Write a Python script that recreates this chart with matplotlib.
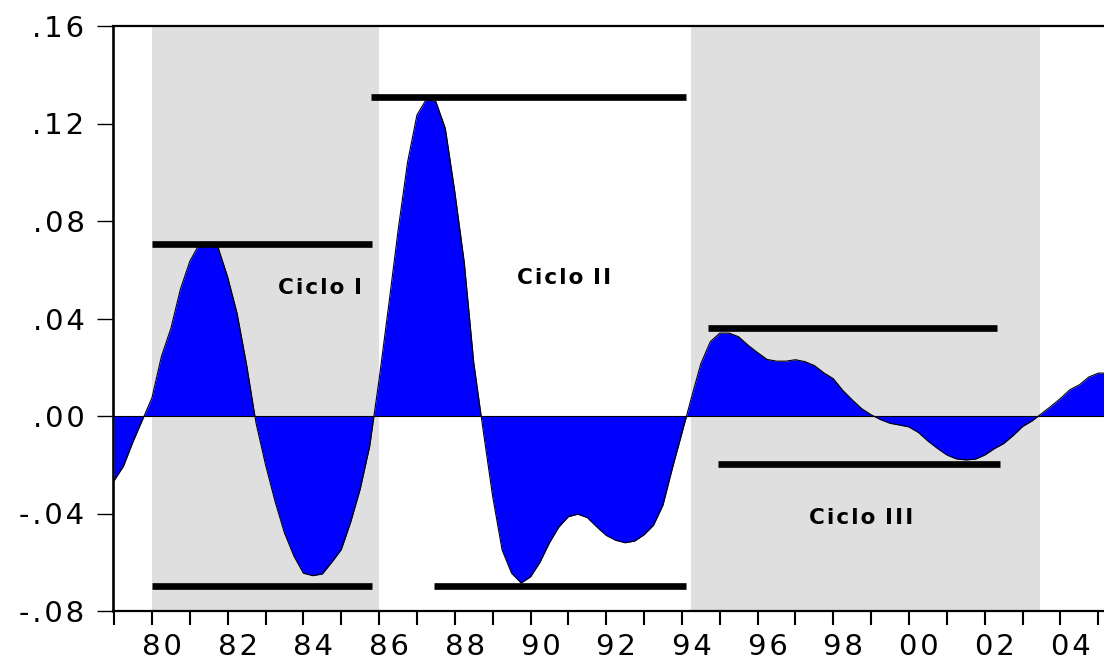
import numpy as np
import matplotlib
matplotlib.use("Agg")
import matplotlib.pyplot as plt
import matplotlib.transforms as mtrans

# ciclo economico trimestral (componente ciclica), 1979T1 - 2005T2
anio_inicio = 1979
ciclo = [
    -0.0265, -0.0205, -0.0105, -0.0015,   # 1979
    0.0075, 0.0245, 0.0360, 0.0520,       # 1980
    0.0635, 0.0705, 0.0710, 0.0690,       # 1981
    0.0570, 0.0420, 0.0210, -0.0030,      # 1982
    -0.0200, -0.0350, -0.0480, -0.0575,   # 1983
    -0.0645, -0.0655, -0.0648, -0.0600,   # 1984
    -0.0548, -0.0435, -0.0300, -0.0125,   # 1985
    0.0150, 0.0450, 0.0760, 0.1040,       # 1986
    0.1235, 0.1300, 0.1290, 0.1180,       # 1987
    0.0920, 0.0630, 0.0220, -0.0060,      # 1988
    -0.0330, -0.0550, -0.0645, -0.0685,   # 1989
    -0.0660, -0.0600, -0.0520, -0.0455,   # 1990
    -0.0413, -0.0403, -0.0417, -0.0455,   # 1991
    -0.0490, -0.0510, -0.0520, -0.0513,   # 1992
    -0.0487, -0.0448, -0.0365, -0.0213,   # 1993
    -0.0070, 0.0075, 0.0215, 0.0305,      # 1994
    0.0340, 0.0340, 0.0325, 0.0290,       # 1995
    0.0260, 0.0232, 0.0225, 0.0225,       # 1996
    0.0231, 0.0223, 0.0207, 0.0177,       # 1997
    0.0153, 0.0105, 0.0066, 0.0030,       # 1998
    0.0005, -0.0015, -0.0030, -0.0037,    # 1999
    -0.0045, -0.0068, -0.0103, -0.0133,   # 2000
    -0.0160, -0.0176, -0.0180, -0.0177,   # 2001
    -0.0160, -0.0134, -0.0113, -0.0080,   # 2002
    -0.0043, -0.0020, 0.0010, 0.0040,     # 2003
    0.0072, 0.0108, 0.0128, 0.0160,       # 2004
    0.0176, 0.0176,                       # 2005
]

# zonas sombreadas (inicio, fin)
sombra_ini = [1980.0, 1994.25]
sombra_fin = [1986.0, 2003.45]

# lineas de picos y valles
linea_nivel = [0.0706, 0.1310, -0.0699, -0.0699, 0.0361, -0.0195]
linea_ini = [1980.0, 1985.79, 1980.0, 1987.45, 1994.70, 1994.94]
linea_fin = [1985.82, 1994.11, 1985.82, 1994.11, 2002.33, 2002.41]

# etiquetas de los ciclos
ciclo_txt = ["Ciclo I", "Ciclo II", "Ciclo III"]
ciclo_x = [1984.44, 1990.89, 1998.74]
ciclo_y = [0.0524, 0.0565, -0.0420]

y_ticks = [-0.08, -0.04, 0.00, 0.04, 0.08, 0.12, 0.16]
y_etiquetas = ["-.08", "-.04", ".00", ".04", ".08", ".12", ".16"]
x_anios = list(range(1979, 2006))


def espaciar(s, sep="\u200a"):
    return sep.join(s)


plt.rcParams['font.family'] = ['DejaVu Sans']

t = anio_inicio + np.arange(len(ciclo)) / 4.0
y = np.array(ciclo)

fig = plt.figure(figsize=(11.04, 6.62), dpi=100)
ax = fig.add_axes([113 / 1104, 51 / 662, 1 - 113 / 1104, 585 / 662])

for a, b in zip(sombra_ini, sombra_fin):
    ax.axvspan(a, b, color="#dfdfdf", lw=0, zorder=0)

ax.fill_between(t, 0, y, color="#0000ff", lw=0, zorder=1)
ax.plot(t, y, color="black", lw=0.8, zorder=2)
ax.axhline(0, color="black", lw=0.8, zorder=2)

ax.hlines(linea_nivel, linea_ini, linea_fin, colors="black", lw=4.8,
          capstyle="butt", zorder=3)

for txt, xx, yy in zip(ciclo_txt, ciclo_x, ciclo_y):
    partes = txt.split(" ")
    s = espaciar(partes[0]) + " \u200a" + espaciar(partes[1])
    ax.text(xx, yy, s, ha="center", va="center", fontsize=15.5,
            fontweight="bold", zorder=4)

ax.set_xlim(1978.97, 2005.15)
ax.set_ylim(-0.08, 0.16)

ax.set_yticks(y_ticks)
ax.set_yticklabels([espaciar(e) for e in y_etiquetas], fontsize=21)
ax.set_xticks(x_anios)
x_etiquetas = []
for a in x_anios:
    if a % 2 == 0:
        x_etiquetas.append(espaciar(str(a)[2:]))
    else:
        x_etiquetas.append("")
ax.set_xticklabels(x_etiquetas, fontsize=21)

ax.tick_params(axis="y", direction="out", length=11.5, width=1.0, pad=9)
ax.tick_params(axis="x", direction="out", length=10, width=1.5, pad=6)

desplaza = mtrans.ScaledTranslation(10 / 100, 0, fig.dpi_scale_trans)
for lab in ax.get_xticklabels():
    lab.set_transform(lab.get_transform() + desplaza)

ax.spines["right"].set_visible(False)
ax.spines["left"].set_linewidth(1.9)
ax.spines["top"].set_linewidth(1.6)
ax.spines["bottom"].set_linewidth(1.6)
for sp in ax.spines.values():
    sp.set_zorder(5)

fig.savefig("out.png", dpi=100)
